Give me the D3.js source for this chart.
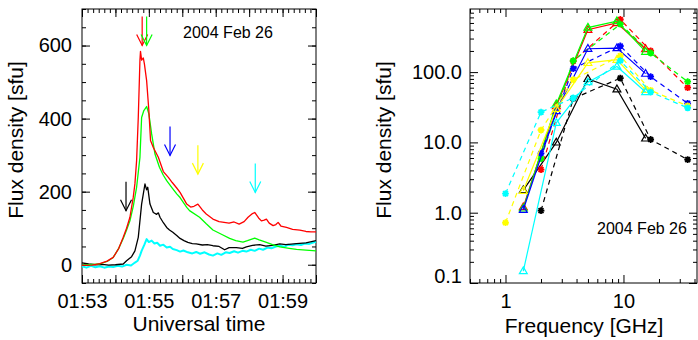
<!DOCTYPE html>
<html>
<head>
<meta charset="utf-8">
<title>2004 Feb 26 flare</title>
<style>
  body { margin: 0; background: #fff; }
  svg { display: block; font-family: "Liberation Sans", Arial, sans-serif; }
  .axis path { display: none; }
  .axis line { stroke: #000; }
  .axis text { fill: #000; font-size: 20px; font-family: "Liberation Sans", Arial, sans-serif; }
  .frame { fill: none; stroke: #000; }
  .title { font-size: 21px; fill: #000; }
  .date { font-size: 16px; fill: #000; }
</style>
</head>
<body>
<svg id="chart" width="698" height="340"></svg>
<script src="https://d3js.org/d3.v7.min.js"></script>
<script>
// light curves: [UT, flux (sfu)]
var lcBlack = [["01:53:00",5],["01:53:12",2],["01:53:24",0],["01:53:36",1],["01:53:48",-1],["01:54:00",0],
  ["01:54:14",2],["01:54:20",11],["01:54:29",22],["01:54:35",38],["01:54:41",75],["01:54:47",166],["01:54:53",221],
  ["01:54:56",205],["01:54:58",212],["01:55:02",166],["01:55:08",143],["01:55:14",138],["01:55:17",142],["01:55:20",130],
  ["01:55:26",115],["01:55:32",102],["01:55:37",95],["01:55:43",89],["01:55:50",80],["01:55:56",72],["01:56:03",66],
  ["01:56:10",61],["01:56:18",58],["01:56:25",57],["01:56:36",54],["01:56:45",55],["01:56:55",52],["01:57:06",50],
  ["01:57:16",41],["01:57:24",47],["01:57:37",47],["01:57:48",45],["01:57:55",49],["01:58:06",53],["01:58:19",55],
  ["01:58:30",51],["01:58:42",53],["01:58:55",57],["01:59:06",55],["01:59:25",58],["01:59:42",60],["02:00:00",66]];

var lcRed = [["01:53:00",-2],["01:53:18",-1],["01:53:32",3],["01:53:45",10],["01:53:56",20],["01:54:06",45],
  ["01:54:14",75],["01:54:20",100],["01:54:26",130],["01:54:32",185],["01:54:35",222],["01:54:38",285],["01:54:41",403],
  ["01:54:44",560],["01:54:45",584],["01:54:47",560],["01:54:50",566],["01:54:52",550],["01:54:56",504],["01:55:00",422],
  ["01:55:03",340],["01:55:08",321],["01:55:17",294],["01:55:26",255],["01:55:35",239],["01:55:42",225],["01:55:50",210],
  ["01:55:56",198],["01:56:08",166],["01:56:15",158],["01:56:21",160],["01:56:28",166],["01:56:36",150],["01:56:43",139],
  ["01:56:55",125],["01:57:06",118],["01:57:15",116],["01:57:24",114],["01:57:33",117],["01:57:42",111],["01:57:51",118],
  ["01:57:58",130],["01:58:06",140],["01:58:10",143],["01:58:17",128],["01:58:22",120],["01:58:27",122],["01:58:31",125],
  ["01:58:36",114],["01:58:43",107],["01:58:48",110],["01:58:52",116],["01:58:57",106],["01:59:07",102],["01:59:18",97],
  ["01:59:31",95],["01:59:42",91],["01:59:51",90],["02:00:00",90]];

var lcGreen = [["01:53:00",-1],["01:53:32",2],["01:53:45",9],["01:53:56",20],["01:54:06",45],["01:54:14",72],
  ["01:54:20",95],["01:54:26",120],["01:54:32",160],["01:54:38",212],["01:54:44",294],["01:54:47",403],["01:54:51",422],
  ["01:54:56",433],["01:55:00",413],["01:55:05",358],["01:55:11",303],["01:55:19",267],["01:55:26",245],["01:55:32",230],
  ["01:55:41",212],["01:55:50",194],["01:55:56",184],["01:56:08",157],["01:56:13",148],["01:56:31",130],["01:56:43",112],
  ["01:56:55",95],["01:57:12",82],["01:57:25",72],["01:57:36",66],["01:57:49",62],["01:57:57",66],["01:58:10",73],
  ["01:58:18",68],["01:58:31",61],["01:58:42",55],["01:58:55",49],["01:59:12",45],["01:59:25",42],["01:59:42",40],
  ["02:00:00",38]];

var lcCyan = [["01:53:00",-4],["01:53:08",-8],["01:53:16",-3],["01:53:24",-7],["01:53:32",-4],["01:53:40",-8],
  ["01:53:48",-5],["01:53:56",-6],["01:54:04",-3],["01:54:12",-5],["01:54:20",0],["01:54:28",-2],["01:54:35",6],
  ["01:54:40",11],["01:54:44",25],["01:54:47",38],["01:54:52",55],["01:54:56",70],["01:55:00",62],["01:55:05",66],
  ["01:55:10",58],["01:55:15",60],["01:55:20",52],["01:55:26",55],["01:55:32",47],["01:55:38",49],["01:55:43",43],
  ["01:55:50",40],["01:55:56",36],["01:56:02",39],["01:56:10",34],["01:56:18",31],["01:56:25",35],["01:56:32",30],
  ["01:56:40",34],["01:56:48",28],["01:56:55",25],["01:57:03",31],["01:57:10",27],["01:57:18",34],["01:57:25",32],
  ["01:57:33",37],["01:57:40",33],["01:57:48",38],["01:57:55",36],["01:58:03",41],["01:58:10",38],["01:58:18",44],
  ["01:58:25",41],["01:58:33",47],["01:58:40",45],["01:58:48",50],["01:58:55",52],["01:59:03",49],["01:59:10",55],
  ["01:59:18",53],["01:59:25",56],["01:59:33",54],["01:59:40",58],["01:59:48",57],["01:59:55",61],["02:00:00",63]];

// arrows marking the spectrum times: colour, UT, flux at arrow tip
var arrowColors = ["#000000", "#ff0000", "#00ff00", "#0000ff", "#ffff00", "#00ffff"];
var arrowTimes = ["01:54:19", "01:54:48", "01:54:56", "01:55:38", "01:56:28", "01:58:11"];
var arrowTips = [148, 600, 600, 299, 248, 198];

// spectra: RSTN (triangles, solid) and NoRP (asterisks, dashed)
var rstnFreq = [1.415, 2.695, 4.995, 8.8, 15.4];
var norpFreq = [1, 2, 3.75, 9.4, 17, 35];
var rstnBlack = [2.1, 10, 80, 57, 11.4];
var norpBlack = [null, 1.07, 42, 82, 11, 5.7];
var rstnRed = [1.2, 33, 400, 500, 213];
var norpRed = [null, 4.1, 143, 560, 200, 60];
var rstnGreen = [1.15, 35, 430, 530, 195];
var norpGreen = [null, 5.9, 145, 480, 187, 73];
var rstnBlue = [1.1, 28, 215, 220, 95];
var norpBlue = [null, 7.0, 112, 235, 86, 36];
var rstnYellow = [2.05, 30, 135, 150, 56];
var norpYellow = [0.72, 15, 78, 170, 55, 33];
var rstnCyan = [0.148, 19, 72, 120, 52];
var norpCyan = [1.87, 27, 43, 145, 52, 31];

var svg = d3.select("#chart");
var parseUT = d3.utcParse("%H:%M:%S");
var fmtUT = d3.utcFormat("%H:%M");

// ---------- left panel: light curves ----------
var x1 = d3.scaleUtc().domain([parseUT("01:53:00"), parseUT("02:00:00")]).range([82, 316]);
var y1 = d3.scaleLinear().domain([-50, 700]).range([283, 9]);

var left = svg.append("g");

function addAxes(g, x, y, opt) {
  var b = y.range()[0], t = y.range()[1], l = x.range()[0], r = x.range()[1];
  // minor ticks
  g.append("g").attr("class", "axis").attr("transform", "translate(0," + b + ")")
    .call(d3.axisBottom(x).tickValues(opt.xMinor).tickSize(-4).tickFormat(""));
  g.append("g").attr("class", "axis").attr("transform", "translate(0," + t + ")")
    .call(d3.axisTop(x).tickValues(opt.xMinor).tickSize(-4).tickFormat(""));
  g.append("g").attr("class", "axis").attr("transform", "translate(" + l + ",0)")
    .call(d3.axisLeft(y).tickValues(opt.yMinor).tickSize(-4).tickFormat(""));
  g.append("g").attr("class", "axis").attr("transform", "translate(" + r + ",0)")
    .call(d3.axisRight(y).tickValues(opt.yMinor).tickSize(-4).tickFormat(""));
  // major ticks
  g.append("g").attr("class", "axis").attr("transform", "translate(0," + b + ")")
    .call(d3.axisBottom(x).tickValues(opt.xMajor).tickSize(-8).tickPadding(11).tickFormat(opt.xFormat));
  g.append("g").attr("class", "axis").attr("transform", "translate(0," + t + ")")
    .call(d3.axisTop(x).tickValues(opt.xMajor).tickSize(-8).tickFormat(""));
  g.append("g").attr("class", "axis ylab").attr("transform", "translate(" + l + ",0)")
    .call(d3.axisLeft(y).tickValues(opt.yMajor).tickSize(-8).tickPadding(opt.yPad).tickFormat(opt.yFormat));
  g.append("g").attr("class", "axis").attr("transform", "translate(" + r + ",0)")
    .call(d3.axisRight(y).tickValues(opt.yMajor).tickSize(-8).tickFormat(""));
  g.append("rect").attr("class", "frame")
    .attr("x", l).attr("y", t).attr("width", r - l).attr("height", b - t);
}

addAxes(left, x1, y1, {
  xMinor: x1.ticks(d3.utcSecond.every(10)),
  xMajor: x1.ticks(d3.utcMinute.every(1)),
  xFormat: function(d) { return d.getUTCMinutes() % 2 ? fmtUT(d) : ""; },
  yMinor: d3.range(-50, 701, 50),
  yMajor: [0, 200, 400, 600],
  yFormat: d3.format("d"),
  yPad: 10
});

var lcLine = d3.line()
  .x(function(d) { return x1(parseUT(d[0])); })
  .y(function(d) { return y1(d[1]); });

var curves = [[lcCyan, "#00ffff", 2], [lcBlack, "#000000", 1.3], [lcGreen, "#00ff00", 1.3], [lcRed, "#ff0000", 1.3]];
curves.forEach(function(c) {
  left.append("path").datum(c[0])
    .attr("d", lcLine)
    .attr("fill", "none")
    .attr("stroke", c[1])
    .attr("stroke-width", c[2])
    .attr("stroke-linejoin", "round");
});

arrowTimes.forEach(function(t, i) {
  var ax = x1(parseUT(t)), ay = y1(arrowTips[i]);
  var a = left.append("g").attr("stroke", arrowColors[i]).attr("stroke-width", 1.2).attr("fill", "none");
  a.append("line").attr("x1", ax).attr("x2", ax).attr("y1", ay - 29).attr("y2", ay);
  a.append("path").attr("d", "M" + (ax - 5.5) + "," + (ay - 11) + "L" + ax + "," + ay + "L" + (ax + 5.5) + "," + (ay - 11));
});

left.append("text").attr("class", "date").attr("x", 228).attr("y", 38)
  .attr("text-anchor", "middle").text("2004 Feb 26");
left.append("text").attr("class", "title").attr("x", 199).attr("y", 331)
  .attr("text-anchor", "middle").text("Universal time");
left.append("text").attr("class", "title").attr("transform", "translate(23,140) rotate(-90)")
  .attr("text-anchor", "middle").text("Flux density [sfu]");

// ---------- right panel: spectra ----------
var x2 = d3.scaleLog().domain([0.5, 42]).range([470, 697]);
var y2 = d3.scaleLog().domain([0.1, 790]).range([283, 9]);
var right = svg.append("g");

function logMinor(lo, hi) {
  var out = [];
  for (var e = lo; e <= hi; e++) {
    for (var m = 2; m <= 9; m++) out.push(m * Math.pow(10, e));
  }
  return out;
}

addAxes(right, x2, y2, {
  xMinor: logMinor(-1, 1).filter(function(v) { return v >= 0.5 && v <= 42; }),
  xMajor: [1, 10],
  xFormat: d3.format("d"),
  yMinor: logMinor(-1, 2).filter(function(v) { return v <= 790; }),
  yMajor: [0.1, 1, 10, 100],
  yFormat: d3.format(".1f"),
  yPad: 8
});
// the bottom label sits a little above its tick, as in the original
right.selectAll(".ylab text").filter(function(d) { return d === 0.1; }).attr("y", -7);

var triangle = {
  draw: function(ctx, size) {
    var s = Math.sqrt(size);
    ctx.moveTo(0, -s * 0.62);
    ctx.lineTo(s * 0.58, s * 0.38);
    ctx.lineTo(-s * 0.58, s * 0.38);
    ctx.closePath();
  }
};
var asterisk = {
  draw: function(ctx, size) {
    var r = Math.sqrt(size) * 0.6, q = r * 0.72;
    ctx.moveTo(-r, 0); ctx.lineTo(r, 0);
    ctx.moveTo(0, -r); ctx.lineTo(0, r);
    ctx.moveTo(-q, -q); ctx.lineTo(q, q);
    ctx.moveTo(-q, q); ctx.lineTo(q, -q);
  }
};

var spectra = [
  ["#000000", rstnBlack, norpBlack],
  ["#ff0000", rstnRed, norpRed],
  ["#00ff00", rstnGreen, norpGreen],
  ["#0000ff", rstnBlue, norpBlue],
  ["#ffff00", rstnYellow, norpYellow],
  ["#00ffff", rstnCyan, norpCyan]
];

var specLine = d3.line()
  .defined(function(d) { return d[1] != null; })
  .x(function(d) { return x2(d[0]); })
  .y(function(d) { return y2(d[1]); });

spectra.forEach(function(s) {
  var col = s[0];
  var rs = d3.zip(rstnFreq, s[1]);
  var ns = d3.zip(norpFreq, s[2]).filter(function(d) { return d[1] != null; });
  right.append("path").datum(ns).attr("d", specLine)
    .attr("fill", "none").attr("stroke", col).attr("stroke-width", 1.2)
    .attr("stroke-dasharray", "5,4");
  right.append("path").datum(rs).attr("d", specLine)
    .attr("fill", "none").attr("stroke", col).attr("stroke-width", 1.2);
  right.selectAll(null).data(ns).enter().append("path")
    .attr("transform", function(d) { return "translate(" + x2(d[0]) + "," + y2(d[1]) + ")"; })
    .attr("d", d3.symbol().type(asterisk).size(32))
    .attr("fill", "none").attr("stroke", col).attr("stroke-width", 1.8);
  right.selectAll(null).data(rs).enter().append("path")
    .attr("transform", function(d) { return "translate(" + x2(d[0]) + "," + y2(d[1]) + ")"; })
    .attr("d", d3.symbol().type(triangle).size(46))
    .attr("fill", "none").attr("stroke", col).attr("stroke-width", 1.2);
});

right.append("text").attr("class", "date").attr("x", 642).attr("y", 234)
  .attr("text-anchor", "middle").text("2004 Feb 26");
right.append("text").attr("class", "title").attr("x", 584).attr("y", 333)
  .attr("text-anchor", "middle").text("Frequency [GHz]");
right.append("text").attr("class", "title").attr("transform", "translate(391,140) rotate(-90)")
  .attr("text-anchor", "middle").text("Flux density [sfu]");
</script>
</body>
</html>
